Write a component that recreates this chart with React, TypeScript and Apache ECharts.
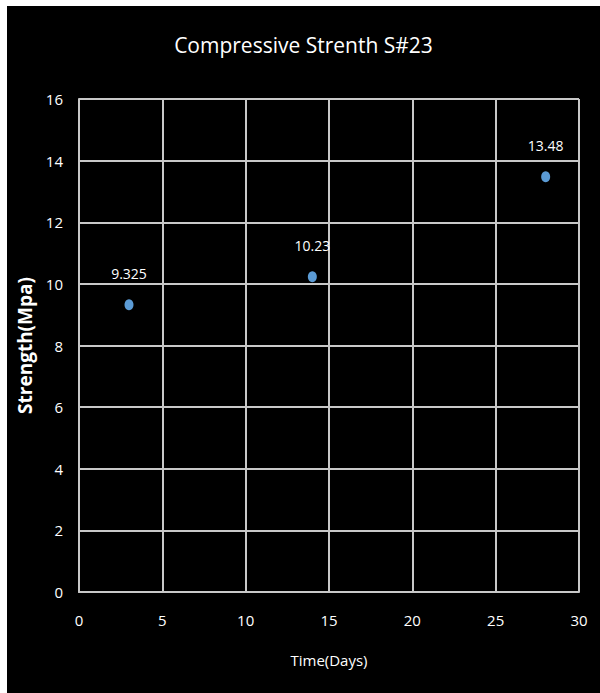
import React, { useEffect, useRef } from "react";
import * as echarts from "echarts";

// Curing time (days) and measured compressive strength (MPa)
const days = [3, 14, 28];
const strength = [9.325, 10.23, 13.48];
const strengthLabels = ["9.325", "10.23", "13.48"];

const titleText = "Compressive Strenth S#23";
const xAxisName = "Time(Days)";
const yAxisName = "Strength(Mpa)";

const FONT = "'Open Sans', sans-serif";

export default function App() {
  const ref = useRef<HTMLDivElement>(null);

  useEffect(() => {
    if (!ref.current) return;
    const chart = echarts.init(ref.current, null, { renderer: "svg" });
    const gridColor = "#c8c8c8";
    chart.setOption({
      animation: false,
      backgroundColor: "#000000",
      textStyle: { fontFamily: FONT },
      title: {
        text: titleText,
        left: "center",
        top: 23,
        textStyle: {
          color: "#ffffff",
          fontSize: 21,
          fontWeight: "normal",
          fontFamily: FONT,
        },
      },
      grid: { left: 72, top: 93, width: 500, height: 493 },
      xAxis: {
        type: "value",
        min: 0,
        max: 30,
        interval: 5,
        name: xAxisName,
        nameLocation: "middle",
        nameGap: 60,
        nameTextStyle: { color: "#ffffff", fontSize: 15, fontFamily: FONT },
        axisLine: { show: true, lineStyle: { color: gridColor, width: 2 } },
        axisTick: { show: false },
        axisLabel: { color: "#ffffff", fontSize: 15, margin: 20, fontFamily: FONT },
        splitLine: { show: true, lineStyle: { color: gridColor, width: 2 } },
      },
      yAxis: {
        type: "value",
        min: 0,
        max: 16,
        interval: 2,
        name: yAxisName,
        nameLocation: "middle",
        nameGap: 38,
        nameTextStyle: {
          color: "#ffffff",
          fontSize: 19,
          fontWeight: "bold",
          fontFamily: FONT,
        },
        axisLine: { show: true, lineStyle: { color: gridColor, width: 2 } },
        axisTick: { show: false },
        axisLabel: { color: "#ffffff", fontSize: 15, margin: 16, fontFamily: FONT },
        splitLine: { show: true, lineStyle: { color: gridColor, width: 2 } },
      },
      series: [
        {
          type: "scatter",
          data: days.map((d, i) => [d, strength[i]]),
          symbol: "circle",
          symbolSize: [9, 11],
          itemStyle: { color: "#5b9bd5", opacity: 1 },
          label: {
            show: true,
            position: "top",
            distance: 19,
            color: "#ffffff",
            opacity: 1,
            textBorderWidth: 0,
            fontSize: 14,
            fontFamily: FONT,
            formatter: (p: any) => strengthLabels[p.dataIndex],
          },
        },
      ],
    });
    return () => chart.dispose();
  }, []);

  return (
    <div
      ref={ref}
      style={{
        position: "fixed",
        left: 7,
        top: 6,
        width: 593,
        height: 687,
        background: "#000000",
      }}
    />
  );
}
